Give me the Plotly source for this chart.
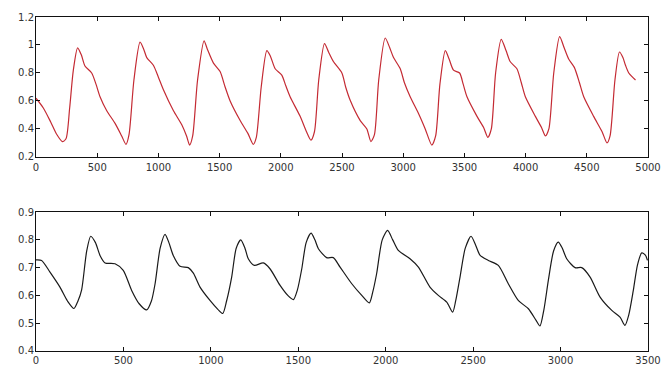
import plotly.graph_objects as go
from plotly.subplots import make_subplots

# Top signal (red)
top_x = [0, 60, 120, 170, 215, 245, 275, 305, 340, 370, 400, 455, 490, 523, 578, 646, 700, 735, 760, 800,
         850, 880, 905, 959, 1000, 1041, 1123, 1191, 1230, 1255, 1280, 1320, 1373, 1400, 1450, 1504, 1545,
         1586, 1668, 1730, 1775, 1800, 1840, 1886, 1915, 1954, 2008, 2040, 2076, 2158, 2210, 2246, 2275,
         2310, 2357, 2390, 2431, 2499, 2530, 2567, 2649, 2703, 2736, 2765, 2800, 2853, 2890, 2921, 2976,
         3010, 3057, 3125, 3180, 3234, 3265, 3300, 3344, 3375, 3411, 3461, 3490, 3521, 3603, 3657, 3692,
         3720, 3755, 3801, 3840, 3875, 3929, 3965, 3998, 4080, 4130, 4162, 4190, 4230, 4278, 4315, 4352,
         4398, 4440, 4475, 4556, 4625, 4665, 4690, 4730, 4767, 4795, 4816, 4843, 4898]
top_y = [0.62, 0.55, 0.45, 0.36, 0.31, 0.33, 0.55, 0.82, 0.98, 0.93, 0.85, 0.80, 0.72, 0.63, 0.53, 0.44, 0.35,
         0.29, 0.36, 0.75, 1.02, 0.97, 0.91, 0.855, 0.77, 0.68, 0.53, 0.43, 0.35, 0.285, 0.35, 0.75, 1.03,
         0.97, 0.87, 0.81, 0.70, 0.60, 0.46, 0.37, 0.29, 0.34, 0.70, 0.96, 0.92, 0.83, 0.785, 0.71, 0.63,
         0.49, 0.38, 0.32, 0.38, 0.75, 1.01, 0.95, 0.88, 0.80, 0.70, 0.605, 0.46, 0.40, 0.31, 0.36, 0.75,
         1.05, 0.98, 0.91, 0.83, 0.73, 0.63, 0.51, 0.40, 0.285, 0.35, 0.72, 0.96, 0.90, 0.82, 0.80, 0.72,
         0.63, 0.49, 0.41, 0.34, 0.40, 0.80, 1.04, 0.96, 0.88, 0.83, 0.73, 0.63, 0.49, 0.41, 0.35, 0.40,
         0.80, 1.06, 0.98, 0.90, 0.84, 0.73, 0.63, 0.49, 0.38, 0.30, 0.35, 0.75, 0.95, 0.91, 0.855, 0.80,
         0.75]

# Bottom signal (black)
bot_x = [0, 32, 80, 137, 180, 217, 240, 261, 290, 313, 340, 366, 395, 452, 499, 547, 590, 633, 660, 681, 710,
         738, 760, 785, 824, 871, 900, 938, 995, 1040, 1068, 1090, 1119, 1145, 1171, 1195, 1214, 1249, 1300,
         1338, 1396, 1440, 1472, 1495, 1520, 1545, 1573, 1595, 1615, 1662, 1700, 1739, 1806, 1863, 1906,
         1925, 1948, 1980, 2011, 2040, 2072, 2139, 2187, 2253, 2301, 2349, 2383, 2400, 2425, 2455, 2488,
         2515, 2540, 2587, 2644, 2701, 2758, 2816, 2860, 2882, 2905, 2930, 2960, 2987, 3010, 3035, 3083,
         3121, 3169, 3226, 3293, 3340, 3368, 3390, 3416, 3440, 3464, 3485, 3497]
bot_y = [0.728, 0.726, 0.684, 0.63, 0.58, 0.553, 0.58, 0.62, 0.76, 0.813, 0.79, 0.744, 0.717, 0.714, 0.69,
         0.618, 0.57, 0.548, 0.58, 0.642, 0.77, 0.82, 0.79, 0.744, 0.705, 0.70, 0.68, 0.63, 0.582, 0.55,
         0.535, 0.58, 0.666, 0.77, 0.80, 0.77, 0.732, 0.708, 0.717, 0.696, 0.636, 0.60, 0.585, 0.62, 0.696,
         0.79, 0.824, 0.80, 0.768, 0.736, 0.736, 0.702, 0.642, 0.60, 0.573, 0.61, 0.678, 0.80, 0.834, 0.80,
         0.762, 0.732, 0.702, 0.63, 0.60, 0.576, 0.54, 0.58, 0.666, 0.77, 0.813, 0.78, 0.744, 0.726, 0.708,
         0.642, 0.582, 0.552, 0.51, 0.49, 0.55, 0.654, 0.76, 0.792, 0.77, 0.732, 0.70, 0.70, 0.666, 0.594,
         0.546, 0.522, 0.492, 0.53, 0.618, 0.71, 0.753, 0.745, 0.726]

top_xticks = [0, 500, 1000, 1500, 2000, 2500, 3000, 3500, 4000, 4500, 5000]
top_yticks = [0.2, 0.4, 0.6, 0.8, 1.0, 1.2]
top_ylabels = ["0.2", "0.4", "0.6", "0.8", "1", "1.2"]
bot_xticks = [0, 500, 1000, 1500, 2000, 2500, 3000, 3500]
bot_yticks = [0.4, 0.5, 0.6, 0.7, 0.8, 0.9]
bot_ylabels = ["0.4", "0.5", "0.6", "0.7", "0.8", "0.9"]

fig = make_subplots(rows=2, cols=1, vertical_spacing=0.165)
fig.add_trace(go.Scatter(x=top_x, y=top_y, mode="lines",
                         line=dict(color="#c42a33", width=1.2, shape="spline", smoothing=0.7)),
              row=1, col=1)
fig.add_trace(go.Scatter(x=bot_x, y=bot_y, mode="lines",
                         line=dict(color="#1a1a1a", width=1.2, shape="spline", smoothing=0.7)),
              row=2, col=1)

font = dict(family="DejaVu Sans", size=10, color="#333333")
axcommon = dict(showgrid=False, zeroline=False, showline=True, linecolor="#111111", linewidth=1,
                mirror="ticks", ticks="inside", ticklen=4, tickcolor="#111111", tickfont=font,
                automargin=False)

fig.update_xaxes(range=[0, 5000], tickvals=top_xticks, ticktext=[str(v) for v in top_xticks],
                 ticklabelstandoff=1, row=1, col=1, **axcommon)
fig.update_yaxes(range=[0.2, 1.2], tickvals=top_yticks, ticktext=top_ylabels,
                 ticklabelstandoff=-1, row=1, col=1, **axcommon)
fig.update_xaxes(range=[0, 3500], tickvals=bot_xticks, ticktext=[str(v) for v in bot_xticks],
                 ticklabelstandoff=0, row=2, col=1, **axcommon)
fig.update_yaxes(range=[0.4, 0.9], tickvals=bot_yticks, ticktext=bot_ylabels,
                 ticklabelstandoff=-1, row=2, col=1, **axcommon)

fig.update_layout(
    width=661, height=365,
    margin=dict(l=36, r=13, t=17, b=14, autoexpand=False),
    paper_bgcolor="white", plot_bgcolor="white",
    showlegend=False,
)
fig.layout.yaxis.domain = [0.581, 1.0]
fig.layout.yaxis2.domain = [0.0, 0.416]

fig.write_html("out.html", config={"displayModeBar": False},
               post_script="document.body.style.margin='0';document.body.style.overflow='hidden';")
